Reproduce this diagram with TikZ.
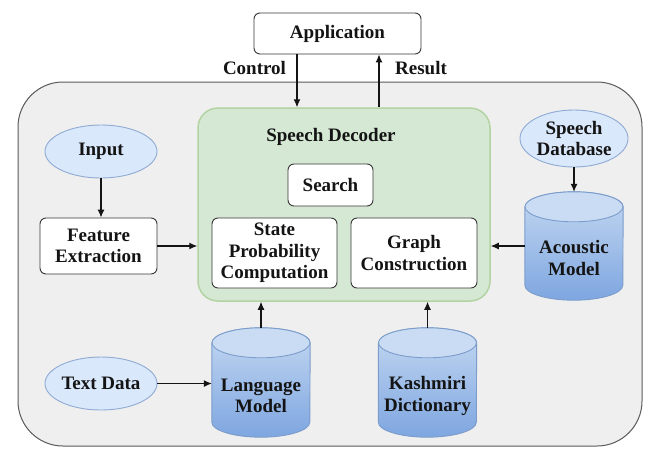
\documentclass[tikz,border=0pt]{standalone}
\usepackage{fontspec}
\setmainfont{Liberation Serif}[BoldFont={* Bold}]
\newfontfamily\labelfont{Liberation Serif}[BoldFont={* Bold}]
\usetikzlibrary{arrows.meta,calc,shapes.geometric}

\definecolor{panelfill}{HTML}{EFEFEF}
\definecolor{panelline}{HTML}{5A5A5A}
\definecolor{decfill}{HTML}{D5E8D4}
\definecolor{decline}{HTML}{B3D3A3}
\definecolor{ovalfill}{HTML}{DAE8FC}
\definecolor{ovalline}{HTML}{8FAAD3}
\definecolor{cylA}{HTML}{C4D8F2}
\definecolor{cylB}{HTML}{7EA6E0}
\definecolor{cylTop}{HTML}{C9DCF4}
\definecolor{cylLine}{HTML}{7C9DCB}
\definecolor{ink}{HTML}{141414}

% database drum drawn inside the rectangular slot node #1
\newcommand{\drum}[1]{%
  \shade[top color=cylA, bottom color=cylB, draw=cylLine, line width=0.9pt]
    ([yshift=-15pt]#1.north west) -- ([yshift=15pt]#1.south west)
    arc[start angle=180, end angle=360, x radius=49pt, y radius=15pt]
    -- ([yshift=-15pt]#1.north east)
    arc[start angle=0, end angle=180, x radius=49pt, y radius=15pt] -- cycle;
  \filldraw[fill=cylTop, draw=cylLine, line width=0.9pt]
    ([yshift=-15pt]#1.north) ellipse[x radius=49pt, y radius=15pt];
}

\begin{document}
\begin{tikzpicture}[x=1pt,y=-1pt,
  every node/.style={font=\labelfont\fontsize{19}{21.5}\selectfont\bfseries, text=ink, align=center},
  whitebox/.style={draw=ink!85, fill=white, rounded corners=6pt, line width=0.9pt, inner sep=0pt},
  oval/.style={ellipse, draw=ovalline, fill=ovalfill, line width=0.9pt, inner sep=0pt},
  cylslot/.style={rectangle, inner sep=0pt, minimum width=98pt},
  arr/.style={-{Latex[length=8pt,width=7pt]}, line width=1.1pt, draw=ink},
]
\useasboundingbox[fill=white] (0,0) rectangle (648,448);

% outer panel and decoder block
\node[draw=panelline, fill=panelfill, line width=1pt, rounded corners=45pt,
      minimum width=624pt, minimum height=364pt] (panel) at (330,264) {};
\node[draw=decline, fill=decfill, line width=1.5pt, rounded corners=20pt,
      minimum width=292pt, minimum height=193pt] (dec) at (344,204.5) {};
\node (dectitle) at (331,137) {Speech Decoder};

% boxes
\node[whitebox, minimum width=167pt, minimum height=41pt] (app) at (337.5,33.5) {Application};
\node[whitebox, minimum width=85pt, minimum height=42pt] (search) at (330.5,185) {Search};
\node[whitebox, minimum width=125pt, minimum height=70pt] (spc) at (274.5,253) {State\\Probability\\Computation};
\node[whitebox, minimum width=126pt, minimum height=70pt] (gc) at (414,253) {Graph\\Construction};
\node[whitebox, minimum width=117pt, minimum height=56pt] (fe) at (98.5,246) {Feature\\Extraction};

% data sources
\node[oval, minimum width=112pt, minimum height=53pt] (input) at (101,151.5) {Input};
\node[oval, minimum width=108pt, minimum height=57pt] (sdb) at (574,138.5) {Speech\\Database};
\node[oval, minimum width=112pt, minimum height=53pt] (td) at (101,383.5) {Text Data};

% model stores
\node[cylslot, minimum height=108pt] (ac) at (574,246) {};
\node[cylslot, minimum height=109pt] (lm) at (261,382.5) {};
\node[cylslot, minimum height=109pt] (kd) at (427.5,382.5) {};
\drum{ac}
\drum{lm}
\drum{kd}
\node (actext) at ([yshift=-12pt]ac.center) {Acoustic\\Model};
\node (lmtext) at ([yshift=-13.5pt]lm.center) {Language\\Model};
\node (kdtext) at ([yshift=-13.5pt]kd.center) {Kashmiri\\Dictionary};

% connectors
\draw[arr] ([xshift=-40.5pt]app.south) -- ([xshift=-40.5pt]app.south |- dec.north);
\draw[arr] ([xshift=41.5pt]app.south |- dec.north) -- ([xshift=41.5pt]app.south);
\node (ctl) at (254.5,68) {Control};
\node (res) at (421,68) {Result};

\draw[arr] (input.south) -- (input.south |- fe.north);
\draw[arr] (fe.east) -- (fe.east -| dec.west);
\draw[arr] (sdb.south) -- (ac.north);
\draw[arr] (ac.west) -- (ac.west -| dec.east);
\draw[arr] (td.east) -- (td.east -| lm.west);
\draw[arr] (lm.north) -- (lm.north |- dec.south);
\draw[arr] (kd.north) -- (kd.north |- dec.south);
\end{tikzpicture}
\end{document}
